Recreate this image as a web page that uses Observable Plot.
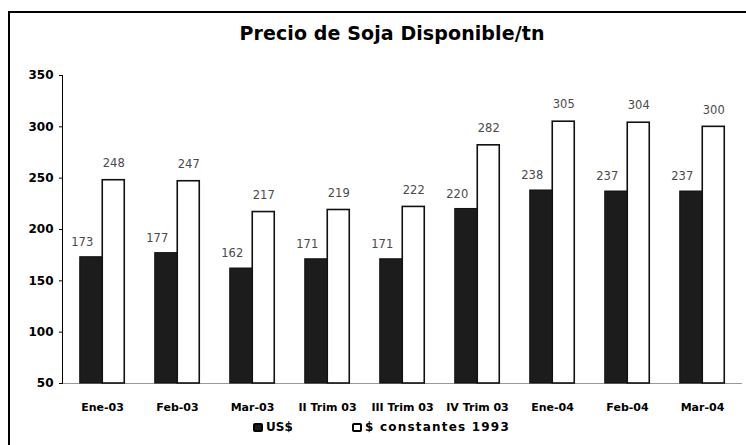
<!DOCTYPE html>
<html>
<head>
<meta charset="utf-8">
<script src="https://cdn.jsdelivr.net/npm/d3@7"></script>
<script src="https://cdn.jsdelivr.net/npm/@observablehq/plot@0.6"></script>
<style>
  html, body { margin: 0; padding: 0; background: #fff; }
  #wrap { position: relative; width: 746px; height: 445px; overflow: hidden; background: #fff; font-family: "DejaVu Sans", sans-serif; }
  #border { position: absolute; left: 8px; top: 11px; width: 900px; height: 600px; border-left: 2.5px solid #000; border-top: 2.5px solid #000; box-sizing: border-box; }
  #title { position: absolute; top: 22px; left: 0; width: 784px; text-align: center; font-weight: bold; font-size: 19px; color: #000; letter-spacing: 0.1px; }
  #chart { position: absolute; top: 0; left: 0; }
  #legend { position: absolute; top: 420px; left: 0; font-weight: bold; font-size: 12px; color: #000; }
  .item { position: absolute; white-space: nowrap; top: 0; }
  .sw { display: inline-block; width: 10px; height: 9px; border-radius: 2px; box-sizing: border-box; vertical-align: -1px; margin-right: 3px; }
</style>
</head>
<body>
<div id="wrap">
  <div id="border"></div>
  <div id="title"></div>
  <div id="chart"></div>
  <div id="legend"></div>
</div>
<script>
const categories = ["Ene-03", "Feb-03", "Mar-03", "II Trim 03", "III Trim 03", "IV Trim 03", "Ene-04", "Feb-04", "Mar-04"];
const seriesNames = ["US$", "$ constantes 1993"];
const usd = [173, 177, 162, 171, 171, 220, 238, 237, 237];
const constantes1993 = [248, 247, 217, 219, 222, 282, 305, 304, 300];
const yTicks = [50, 100, 150, 200, 250, 300, 350];
const titleText = "Precio de Soja Disponible/tn";

const dataUsd = categories.map((c, i) => ({cat: c, series: seriesNames[0], value: usd[i]}));
const dataConst = categories.map((c, i) => ({cat: c, series: seriesNames[1], value: constantes1993[i]}));

document.getElementById("title").textContent = titleText;

const half = 11.25;
const chart = Plot.plot({
  width: 746,
  height: 418,
  marginTop: 75,
  marginBottom: 35,
  marginLeft: 62,
  marginRight: 4,
  style: {fontFamily: "DejaVu Sans, sans-serif", fontSize: "11px", fontWeight: "bold", color: "#000", background: "transparent"},
  x: {domain: categories, paddingInner: 0.7016, paddingOuter: 0.3508, tickSize: 0, tickPadding: 20, label: null},
  y: {domain: [50, 350], ticks: yTicks, tickSize: 3, tickPadding: 6, label: null, tickFormat: d => String(d)},
  marks: [
    Plot.ruleY([50], {stroke: "#999", strokeWidth: 1}),
    Plot.barY(dataUsd, {x: "cat", y1: 50, y2: "value", dx: -half, fill: "#1c1c1c", stroke: "#111", strokeWidth: 1}),
    Plot.barY(dataConst, {x: "cat", y1: 50, y2: "value", dx: half, fill: "#fff", stroke: "#111", strokeWidth: 1.6}),
    Plot.text(dataUsd, {x: "cat", y: "value", text: d => String(d.value), dx: -half - 9, dy: -15, fill: "#4a4a4a", fontWeight: "normal", fontSize: 11.5}),
    Plot.text(dataConst, {x: "cat", y: "value", text: d => String(d.value), dx: half, dy: -17, fill: "#4a4a4a", fontWeight: "normal", fontSize: 11.5}),
    Plot.frame({anchor: "left", stroke: "#000", strokeWidth: 1})
  ]
});
chart.querySelectorAll('[aria-label="y-axis tick label"] text').forEach(t => t.setAttribute("font-size", "12"));
document.getElementById("chart").appendChild(chart);

const legend = document.getElementById("legend");
const items = [
  {name: seriesNames[0], left: 253, fill: "#1c1c1c", ls: "0px"},
  {name: seriesNames[1], left: 352, fill: "#fff", ls: "1.2px"}
];
items.forEach(it => {
  const el = document.createElement("div");
  el.className = "item";
  el.style.left = it.left + "px";
  const sw = document.createElement("span");
  sw.className = "sw";
  sw.style.background = it.fill;
  sw.style.border = "2px solid #000";
  el.appendChild(sw);
  const t = document.createElement("span");
  t.textContent = it.name;
  t.style.letterSpacing = it.ls;
  el.appendChild(t);
  legend.appendChild(el);
});
</script>
</body>
</html>
